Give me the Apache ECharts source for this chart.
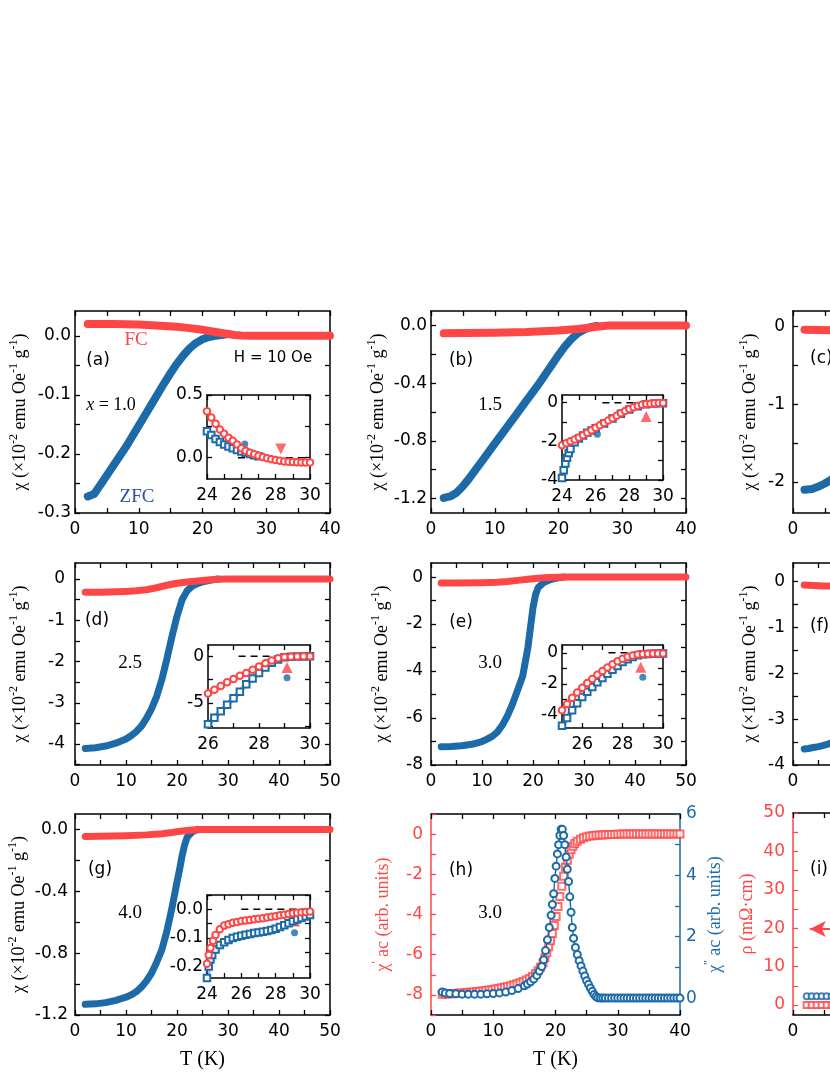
<!DOCTYPE html>
<html>
<head>
<meta charset="utf-8">
<script src="https://cdn.jsdelivr.net/npm/echarts@6/dist/echarts.min.js"></script>
<style>
html,body{margin:0;padding:0;background:#fff;overflow:hidden}
#chart{width:1100px;height:1075px}
</style>
</head>
<body>
<div id="chart"></div>
<script>
// ---- data ----
// (a) x = 1.0
const T_aFC = [2,4,6,8,10,12,14,16,18,20,22,24,25,26,28,30,35,40]
const chi_aFC = [0.020,0.020,0.0198,0.0194,0.019,0.018,0.0168,0.0152,0.013,0.0102,0.0065,0.003,0.0015,0.0006,0,0,0,0]
const T_aZFC = [2,3,4,5,6,7,8,9,10,11,12,13,14,15,16,17,18,19,20,21,22,23,24]
const chi_aZFC = [-0.272,-0.268,-0.252,-0.236,-0.220,-0.204,-0.188,-0.170,-0.152,-0.134,-0.116,-0.098,-0.080,-0.063,-0.047,-0.033,-0.021,-0.012,-0.006,-0.002,0.000,0.0015,0.003]
const T_aInR = [24,24.25,24.5,24.75,25,25.25,25.5,25.75,26,26.25,26.5,26.75,27,27.25,27.5,27.75,28,28.25,28.5,28.75,29,29.25,29.5,29.75,30]
const chi_aInR = [0.37,0.32,0.27,0.225,0.19,0.16,0.135,0.105,0.075,0.055,0.04,0.028,0.015,0.005,-0.005,-0.012,-0.018,-0.025,-0.03,-0.033,-0.035,-0.037,-0.038,-0.038,-0.038]
const T_aInB = [24,24.25,24.5,24.75,25,25.25,25.5,25.75,26,26.25,26.5,26.75,27]
const chi_aInB = [0.21,0.18,0.15,0.125,0.105,0.09,0.075,0.062,0.05,0.04,0.03,0.02,0.012]
const dot_a = [[26.2,0.11]]
const tri_a = [[28.3,0.07]]
const dash_a = [25.8,30]

// (b) x = 1.5
const T_bFC = [2,5,10,15,20,23,25,27,28,30,35,40]
const chi_bFC = [-0.055,-0.053,-0.05,-0.045,-0.035,-0.025,-0.015,-0.004,0,0,0,0]
const T_bZFC = [2,3,4,5,6,7,8,9,10,11,12,13,14,15,16,17,18,19,20,21,22,23,24,25,26]
const chi_bZFC = [-1.195,-1.185,-1.16,-1.115,-1.06,-1.0,-0.94,-0.88,-0.82,-0.76,-0.70,-0.64,-0.58,-0.52,-0.46,-0.40,-0.335,-0.27,-0.205,-0.145,-0.095,-0.055,-0.028,-0.012,-0.004]
const T_bInR = [24,24.25,24.5,24.75,25,25.25,25.5,25.75,26,26.25,26.5,26.75,27,27.25,27.5,27.75,28,28.25,28.5,28.75,29,29.25,29.5,29.75,30]
const chi_bInR = [-2.2,-2.1,-2.0,-1.9,-1.8,-1.68,-1.55,-1.43,-1.3,-1.17,-1.05,-0.92,-0.8,-0.67,-0.55,-0.43,-0.33,-0.24,-0.17,-0.11,-0.07,-0.05,-0.03,-0.02,-0.02]
const T_bInB = [24,24.1,24.2,24.3,24.4,24.5,24.75,25,25.25,25.5,25.75,26,26.5,27,27.5,28,28.5,29,29.5,30]
const chi_bInB = [-3.9,-3.5,-3.15,-2.85,-2.6,-2.4,-2.05,-1.85,-1.7,-1.56,-1.44,-1.32,-1.07,-0.82,-0.57,-0.35,-0.18,-0.08,-0.04,-0.03]
const dot_b = [[26.1,-1.63]]
const tri_b = [[29.0,-0.71]]
const dash_b = [26.4,30]

// (c)
const T_cFC = [1.8,4,6,8,10,15,20,25,30,40]
const chi_cFC = [-0.04,-0.045,-0.048,-0.05,-0.05,-0.05,-0.04,-0.02,0,0]
const T_cZFC = [1.8,3,4,5,6,8,10,12]
const chi_cZFC = [-2.1,-2.09,-2.06,-2.02,-1.97,-1.85,-1.68,-1.45]

// (d) x = 2.5
const T_dFC = [2,5,8,10,12,14,16,18,20,22,24,26,28,30,40,50]
const chi_dFC = [-0.32,-0.32,-0.31,-0.30,-0.285,-0.26,-0.21,-0.15,-0.10,-0.07,-0.045,-0.02,-0.005,0,0,0]
const T_dZFC = [2,4,6,8,10,11,12,13,14,15,16,17,18,19,20,21,22,23,24,25,26,27,28]
const chi_dZFC = [-4.11,-4.09,-4.05,-3.98,-3.88,-3.80,-3.70,-3.57,-3.38,-3.15,-2.85,-2.45,-1.95,-1.40,-0.90,-0.50,-0.28,-0.17,-0.11,-0.07,-0.04,-0.02,0]
const T_dIn = [26,26.25,26.5,26.75,27,27.25,27.5,27.75,28,28.25,28.5,28.75,29,29.25,29.5,29.75,30]
const chi_dInR = [-4.0,-3.6,-3.2,-2.8,-2.45,-2.1,-1.8,-1.45,-1.1,-0.75,-0.45,-0.22,-0.1,-0.05,-0.02,-0.01,-0.01]
const chi_dInB = [-7.3,-6.6,-5.9,-5.2,-4.5,-3.8,-3.0,-2.4,-1.8,-1.2,-0.7,-0.35,-0.12,-0.06,-0.03,-0.02,-0.01]
const dot_d = [[29.1,-2.3]]
const tri_d = [[29.1,-1.2]]
const dash_d = [27.2,30]

// (e) x = 3.0
const T_eFC = [2,5,10,13,15,17,19,21,23,25,27,35,50]
const chi_eFC = [-0.25,-0.25,-0.24,-0.22,-0.19,-0.14,-0.09,-0.05,-0.02,-0.005,0,0,0]
const T_eZFC = [2,4,6,8,10,11,12,13,14,15,16,17,18,19,19.5,20,20.5,21,22,23,24,25,26]
const chi_eZFC = [-7.22,-7.21,-7.18,-7.12,-7.0,-6.9,-6.78,-6.6,-6.3,-5.9,-5.4,-4.8,-4.2,-3.0,-2.15,-1.3,-0.75,-0.45,-0.25,-0.14,-0.07,-0.03,0]
const T_eIn = [25,25.25,25.5,25.75,26,26.25,26.5,26.75,27,27.25,27.5,27.75,28,28.25,28.5,28.75,29,29.25,29.5,29.75,30]
const chi_eInR = [-3.7,-3.3,-2.9,-2.55,-2.25,-1.95,-1.68,-1.42,-1.18,-0.95,-0.74,-0.55,-0.38,-0.26,-0.17,-0.11,-0.08,-0.06,-0.05,-0.05,-0.05]
const chi_eInB = [-4.7,-4.2,-3.7,-3.25,-2.85,-2.5,-2.2,-1.9,-1.62,-1.35,-1.1,-0.85,-0.6,-0.42,-0.27,-0.16,-0.1,-0.08,-0.06,-0.05,-0.05]
const dot_e = [[29.0,-1.57]]
const tri_e = [[28.9,-0.93]]
const dash_e = [27.3,30]

// (f)
const T_fFC = [2.2,4,6,8,10]
const chi_fFC = [-0.08,-0.09,-0.1,-0.1,-0.1]
const T_fZFC = [2.2,3,4,5,6,7,8,10]
const chi_fZFC = [-3.65,-3.64,-3.62,-3.6,-3.57,-3.54,-3.5,-3.4]

// (g) x = 4.0
const T_gFC = [2,5,10,14,17,19,21,23,25,30,40,50]
const chi_gFC = [-0.045,-0.044,-0.04,-0.035,-0.028,-0.02,-0.01,-0.003,0,0,0,0]
const T_gZFC = [2,4,6,8,10,11,12,13,14,15,16,17,18,19,20,20.5,21,21.5,22,23,24]
const chi_gZFC = [-1.131,-1.128,-1.12,-1.105,-1.085,-1.07,-1.05,-1.02,-0.98,-0.93,-0.86,-0.78,-0.66,-0.51,-0.34,-0.26,-0.17,-0.10,-0.05,-0.015,0]
const T_gInR = [24,24.1,24.2,24.35,24.5,24.75,25,25.25,25.5,25.75,26,26.25,26.5,26.75,27,27.25,27.5,27.75,28,28.25,28.5,28.75,29,29.25,29.5,29.75,30]
const chi_gInR = [-0.19,-0.16,-0.135,-0.11,-0.09,-0.07,-0.057,-0.052,-0.047,-0.044,-0.041,-0.039,-0.037,-0.035,-0.033,-0.031,-0.029,-0.026,-0.024,-0.021,-0.019,-0.016,-0.014,-0.012,-0.01,-0.009,-0.008]
const T_gInB = [24,24.1,24.2,24.3,24.5,24.75,25,25.25,25.5,25.75,26,26.25,26.5,26.75,27,27.25,27.5,27.75,28,28.25,28.5,28.75,29,29.25,29.5,29.75,30]
const chi_gInB = [-0.24,-0.2,-0.175,-0.16,-0.14,-0.125,-0.115,-0.107,-0.1,-0.096,-0.092,-0.089,-0.086,-0.083,-0.081,-0.078,-0.076,-0.072,-0.068,-0.062,-0.056,-0.049,-0.042,-0.036,-0.03,-0.025,-0.02]
const dot_g = [[29.1,-0.082]]
const tri_g = [[29.1,-0.041]]
const dash_g = [26,30]

// (h) ac susceptibility, x = 3.0
const T_hRe = [1.8,2.3,2.8,3.3,3.8,4.3,4.8,5.3,5.8,6.3,6.8,7.3,7.8,8.3,8.8,9.3,9.8,10.3,10.8,11.3,11.8,12.3,12.8,13.3,13.8,14.3,14.8,15.3,15.8,16.3,16.8,17.2,17.6,18.0,18.3,18.6,18.9,19.2,19.5,19.8,20.1,20.4,20.7,21.0,21.3,21.6,21.9,22.2,22.5,22.8,23.1,23.5,24,24.5,25,25.5,26,26.5,27,27.5,28,28.5,29,29.5,30,30.5,31,31.5,32,32.5,33,33.5,34,34.5,35,35.5,36,36.5,37,37.5,38,38.5,39,39.5,40]
const chi_hRe = [-7.97,-7.96,-7.95,-7.94,-7.93,-7.92,-7.91,-7.9,-7.88,-7.87,-7.85,-7.84,-7.82,-7.8,-7.78,-7.76,-7.74,-7.71,-7.68,-7.65,-7.62,-7.58,-7.54,-7.5,-7.45,-7.4,-7.33,-7.26,-7.18,-7.08,-6.95,-6.8,-6.62,-6.4,-6.15,-5.9,-5.6,-5.3,-4.95,-4.55,-4.1,-3.6,-3.1,-2.6,-2.1,-1.65,-1.3,-1.0,-0.78,-0.6,-0.47,-0.35,-0.25,-0.18,-0.13,-0.1,-0.08,-0.06,-0.05,-0.04,-0.03,-0.025,-0.02,-0.015,-0.01,0,0,0,0,0,0,0,0,0,0,0,0,0,0,0,0,0,0,0,0]
const T_hIm = [1.8,2.3,3,4,5,6,7,8,9,10,11,12,13,14,15,15.5,16,16.5,17,17.4,17.8,18.1,18.4,18.7,19.0,19.3,19.5,19.7,19.9,20.1,20.3,20.5,20.7,20.9,21.1,21.3,21.5,21.7,21.9,22.1,22.3,22.5,22.7,22.9,23.2,23.5,23.8,24.1,24.4,24.7,25.0,25.3,25.6,25.9,26.2,26.5,26.8,27.2,27.6,28,28.5,29,29.5,30,30.5,31,31.5,32,32.5,33,33.5,34,34.5,35,35.5,36,36.5,37,37.5,38,38.5,39,39.5,40]
const chi_hIm = [0.2,0.17,0.15,0.14,0.13,0.13,0.13,0.13,0.14,0.15,0.17,0.2,0.25,0.31,0.4,0.46,0.53,0.62,0.74,0.88,1.03,1.25,1.55,1.9,2.3,2.7,3.05,3.4,3.9,4.3,4.7,5.0,5.3,5.5,5.5,5.3,5.0,4.6,4.2,3.8,3.3,2.8,2.3,1.95,1.65,1.42,1.22,1.05,0.88,0.72,0.57,0.45,0.33,0.22,0.12,0.05,0.01,0,0,0,0,0,0,0,0,0,0,0,0,0,0,0,0,0,0,0,0,0,0,0,0,0,0,0]

// (i) resistivity
const T_i = [2.2,3.0,3.8,4.6,5.4,6.2,7.0]
const rho_iB = [2.3,2.3,2.3,2.3,2.3,2.3,2.3]
const rho_iR = [0,0,0,0,0,0,0]
const arrow_i = [[2.7,19.8],[12,19.8]]

// ticks
const xTicks40 = [0,10,20,30,40]
const xTicks50 = [0,10,20,30,40,50]
const yTicks_a = [-0.3,-0.2,-0.1,0]
const yTicks_b = [-1.2,-0.8,-0.4,0]
const yTicks_c = [-2,-1,0]
const yTicks_d = [-4,-3,-2,-1,0]
const yTicks_e = [-8,-6,-4,-2,0]
const yTicks_f = [-4,-3,-2,-1,0]
const yTicks_g = [-1.2,-0.8,-0.4,0]
const yTicks_hL = [-8,-6,-4,-2,0]
const yTicks_hR = [0,2,4,6]
const yTicks_i = [0,10,20,30,40,50]
const inX_24 = [24,26,28,30]
const inX_26 = [26,28,30]
const inY_a = [0,0.5]
const inY_b = [-4,-2,0]
const inY_d = [-5,0]
const inY_e = [-4,-2,0]
const inY_g = [-0.2,-0.1,0]

// ---- build ----
const RED = '#ff4646'
const BLUE = '#1c6aa8'
const SANS = 'DejaVu Sans'
const SERIF = 'Liberation Serif'
const chiName = 'χ (×10{s|-2} emu Oe{s|-1} g{s|-1})'

let grid = [], xAxis = [], yAxis = [], series = [], graphic = []

function allTicks(major, n, min, max) {
  let step = (major[1] - major[0]) / n
  let out = []
  for (let k = Math.ceil((min - 1e-9) / step); k <= Math.floor((max + 1e-9) / step); k++) out.push(+(k * step).toFixed(6))
  return out
}

function axisDef(o) {
  return {
    type: 'value', gridIndex: o.gi, position: o.pos, min: o.r[0], max: o.r[1],
    axisLine: { show: true, onZero: false, lineStyle: { color: o.color || '#000', width: 1.5 } },
    axisTick: { show: true, inside: true, length: 5, customValues: allTicks(o.t, o.n, o.r[0], o.r[1]), lineStyle: { width: 1.3 } },
    axisLabel: o.lab ? {
      show: true, customValues: o.t, margin: o.m, color: o.color || '#000',
      fontFamily: SANS, fontSize: 17, formatter: v => v.toFixed(o.d)
    } : { show: false },
    splitLine: { show: false },
    name: o.name || '', nameLocation: 'middle', nameGap: o.gap || 0, nameRotate: o.rot,
    nameTextStyle: {
      fontFamily: SERIF, fontSize: o.nfs || 18, color: o.ncolor || '#000', lineHeight: 24,
      rich: { s: { fontFamily: SERIF, fontSize: 12, verticalAlign: 'top', color: o.ncolor || '#000' } }
    }
  }
}

function panel(p) {
  let gi = grid.length
  grid.push({ left: p.rect[0], top: p.rect[1], width: p.rect[2], height: p.rect[3], show: !!p.inset, backgroundColor: '#fff', borderWidth: 0 })
  let xi = xAxis.length, yi = yAxis.length
  xAxis.push(axisDef({ gi, pos: 'bottom', r: p.xr, t: p.xt, n: p.xn || 2, lab: true, m: p.xm || 8, d: 0, name: p.xName, gap: 33, nfs: 20 }))
  xAxis.push(axisDef({ gi, pos: 'top', r: p.xr, t: p.xt, n: p.xn || 2, lab: false }))
  yAxis.push(axisDef({ gi, pos: 'left', r: p.yr, t: p.yt, n: p.yn || 2, lab: true, m: p.ym, d: p.yd || 0, name: p.yName, gap: p.yGap, color: p.yColor, ncolor: p.yNameColor }))
  if (p.right) {
    let q = p.right
    yAxis.push(axisDef({ gi, pos: 'right', r: q.r, t: q.t, n: 2, lab: true, m: q.m, d: 0, name: q.name, gap: q.gap, rot: 90, color: q.color, ncolor: q.color }))
  } else {
    yAxis.push(axisDef({ gi, pos: 'right', r: p.yr, t: p.yt, n: p.yn || 2, lab: false }))
  }
  return { xi, yi, yr: yi + 1 }
}

function pts(T, V) { return T.map((t, i) => [t, V[i]]) }

function band(pi, T, V, color, w) {
  series.push({
    type: 'line', xAxisIndex: pi.xi, yAxisIndex: pi.yi, data: pts(T, V), symbol: 'none', showSymbol: false,
    smooth: false, silent: true, animation: false,
    lineStyle: { color, width: w, cap: 'round', join: 'round' }
  })
}

function chain(pi, T, V, color, fade, sym) {
  series.push({
    type: 'line', xAxisIndex: pi.xi, yAxisIndex: pi.yi, data: pts(T, V), showSymbol: true, showAllSymbol: true,
    symbol: sym, symbolSize: 6.5, smooth: false, silent: true, animation: false,
    itemStyle: { color, borderColor: color, borderWidth: 1.2 },
    lineStyle: { color: fade, width: 5, join: 'round' }
  })
}

function insetMarks(pi, dash, dot, tri, down) {
  series.push({
    type: 'line', xAxisIndex: pi.xi, yAxisIndex: pi.yi, data: [[dash[0], 0], [dash[1], 0]], symbol: 'none', silent: true, animation: false,
    lineStyle: { color: '#000', width: 1.4, type: [7, 5] }
  })
  series.push({
    type: 'scatter', xAxisIndex: pi.xi, yAxisIndex: pi.yi, data: dot, symbol: 'circle', symbolSize: 7,
    itemStyle: { color: BLUE }, silent: true, animation: false
  })
  series.push({
    type: 'scatter', xAxisIndex: pi.xi, yAxisIndex: pi.yi, data: tri, symbol: 'triangle', symbolSize: [11, 11],
    symbolRotate: down ? 180 : 0, itemStyle: { color: RED }, silent: true, animation: false
  })
}

function txt(x, y, text, o) {
  o = o || {}
  graphic.push({
    type: 'text', x, y, silent: true,
    style: {
      text, fill: o.fill || '#000', font: (o.size || 17) + 'px "' + (o.serif ? SERIF : SANS) + '"',
      textAlign: o.align || 'center', textVerticalAlign: 'middle',
      rich: o.rich
    }
  })
}

const redFade = 'rgba(255,70,70,0.4)'
const blueFade = 'rgba(28,106,168,0.4)'

// row 1
let pa = panel({ rect: [75, 311, 255, 202], xr: [0, 40], xt: xTicks40, yr: [-0.3, 0.042], yt: yTicks_a, yd: 1, ym: 4, yName: chiName, yGap: 43 })
band(pa, T_aZFC, chi_aZFC, BLUE, 8)
band(pa, T_aFC, chi_aFC, RED, 8)
let pai = panel({ inset: true, rect: [207, 395, 103, 84], xr: [24, 30], xt: inX_24, yr: [-0.17, 0.5], yt: inY_a, yd: 1, ym: 4 })
chain(pai, T_aInB, chi_aInB, BLUE, blueFade, 'emptyRect')
chain(pai, T_aInR, chi_aInR, RED, redFade, 'emptyCircle')
insetMarks(pai, dash_a, dot_a, tri_a, true)

let pb = panel({ rect: [431, 311, 255, 202], xr: [0, 40], xt: xTicks40, yr: [-1.3, 0.1], yt: yTicks_b, yd: 1, ym: 4, yName: chiName, yGap: 39 })
band(pb, T_bZFC, chi_bZFC, BLUE, 8)
band(pb, T_bFC, chi_bFC, RED, 8)
let pbi = panel({ inset: true, rect: [562, 395, 101, 85], xr: [24, 30], xt: inX_24, yr: [-4, 0.4], yt: inY_b, ym: 4 })
chain(pbi, T_bInB, chi_bInB, BLUE, blueFade, 'emptyRect')
chain(pbi, T_bInR, chi_bInR, RED, redFade, 'emptyCircle')
insetMarks(pbi, dash_b, dot_b, tri_b, false)

let pc = panel({ rect: [793, 311, 255, 202], xr: [0, 40], xt: xTicks40, yr: [-2.4, 0.2], yt: yTicks_c, ym: 8, yName: chiName, yGap: 31 })
band(pc, T_cZFC, chi_cZFC, BLUE, 8)
band(pc, T_cFC, chi_cFC, RED, 8)

// row 2
let pd = panel({ rect: [75, 563, 255, 202], xr: [0, 50], xt: xTicks50, yr: [-4.51, 0.39], yt: yTicks_d, ym: 10, yName: chiName, yGap: 43 })
band(pd, T_dZFC, chi_dZFC, BLUE, 7)
band(pd, T_dFC, chi_dFC, RED, 7)
let pdi = panel({ inset: true, rect: [208, 645, 102, 83], xr: [26, 30], xt: inX_26, yr: [-7.7, 1.2], yt: inY_d, ym: 4 })
chain(pdi, T_dIn, chi_dInB, BLUE, blueFade, 'emptyRect')
chain(pdi, T_dIn, chi_dInR, RED, redFade, 'emptyCircle')
insetMarks(pdi, dash_d, dot_d, tri_d, false)

let pe = panel({ rect: [431, 563, 255, 202], xr: [0, 50], xt: xTicks50, yr: [-8, 0.6], yt: yTicks_e, yn: 2, ym: 8, yName: chiName, yGap: 37 })
band(pe, T_eZFC, chi_eZFC, BLUE, 7)
band(pe, T_eFC, chi_eFC, RED, 7)
let pei = panel({ inset: true, rect: [562, 645, 101, 83], xr: [25, 30], xt: inX_26, yr: [-4.84, 0.5], yt: inY_e, ym: 4 })
chain(pei, T_eIn, chi_eInB, BLUE, blueFade, 'emptyRect')
chain(pei, T_eIn, chi_eInR, RED, redFade, 'emptyCircle')
insetMarks(pei, dash_e, dot_e, tri_e, false)

let pf = panel({ rect: [793, 563, 255, 202], xr: [0, 50], xt: xTicks50, yr: [-4, 0.4], yt: yTicks_f, ym: 8, yName: chiName, yGap: 31 })
band(pf, T_fZFC, chi_fZFC, BLUE, 7)
band(pf, T_fFC, chi_fFC, RED, 7)

// row 3
let pg = panel({ rect: [75, 814, 255, 201], xr: [0, 50], xt: xTicks50, yr: [-1.2, 0.1], yt: yTicks_g, yd: 1, ym: 7, yName: chiName, yGap: 43, xName: 'T (K)' })
band(pg, T_gZFC, chi_gZFC, BLUE, 7)
band(pg, T_gFC, chi_gFC, RED, 7)
let pgi = panel({ inset: true, rect: [207, 895, 103, 83], xr: [24, 30], xt: inX_24, yr: [-0.24, 0.05], yt: inY_g, yd: 1, ym: 4 })
chain(pgi, T_gInB, chi_gInB, BLUE, blueFade, 'emptyRect')
chain(pgi, T_gInR, chi_gInR, RED, redFade, 'emptyCircle')
insetMarks(pgi, dash_g, dot_g, tri_g, false)

let ph = panel({
  rect: [431, 814, 249, 201], xr: [0, 40], xt: xTicks40, yr: [-9, 1], yt: yTicks_hL, ym: 8,
  yName: 'χ{s|\'} ac (arb. units)', yGap: 36, yColor: RED, yNameColor: RED, xName: 'T (K)',
  right: { r: [-0.55, 6], t: yTicks_hR, m: 6, name: 'χ{s|\'\'} ac (arb. units)', gap: 23, color: BLUE }
})
series.push({
  type: 'line', xAxisIndex: ph.xi, yAxisIndex: ph.yr, data: pts(T_hIm, chi_hIm), symbol: 'emptyCircle', symbolSize: 7,
  showAllSymbol: true, silent: true, animation: false,
  itemStyle: { color: BLUE, borderColor: BLUE, borderWidth: 1.3 }, lineStyle: { color: BLUE, width: 1.4 }
})
series.push({
  type: 'scatter', xAxisIndex: ph.xi, yAxisIndex: ph.yi, data: pts(T_hRe, chi_hRe), symbol: 'emptyRect', symbolSize: 7,
  silent: true, animation: false, itemStyle: { color: RED, borderColor: RED, borderWidth: 1.3 }
})

let pi_ = panel({ rect: [793, 813, 249, 202], xr: [0, 40], xt: xTicks40, yr: [-2.6, 50], yt: yTicks_i, ym: 8, yName: 'ρ (mΩ·cm)', yGap: 31, yColor: RED, yNameColor: RED })
series.push({
  type: 'scatter', xAxisIndex: pi_.xi, yAxisIndex: pi_.yi, data: pts(T_i, rho_iB), symbol: 'emptyCircle', symbolSize: 6,
  silent: true, animation: false, itemStyle: { color: BLUE, borderColor: BLUE, borderWidth: 1.2 }
})
series.push({
  type: 'scatter', xAxisIndex: pi_.xi, yAxisIndex: pi_.yi, data: pts(T_i, rho_iR), symbol: 'emptyRect', symbolSize: 6,
  silent: true, animation: false, itemStyle: { color: RED, borderColor: RED, borderWidth: 1.2 },
  markLine: {
    silent: true, animation: false, symbol: ['arrow', 'none'], symbolSize: [12, 16], label: { show: false },
    lineStyle: { color: RED, width: 2, type: 'solid' },
    data: [[{ coord: arrow_i[0] }, { coord: arrow_i[1] }]]
  }
})

// annotations
const serifRich = { i: { fontFamily: SERIF, fontStyle: 'italic', fontSize: 18 } }
txt(98, 361, '(a)')
txt(136, 340, 'FC', { serif: true, size: 19, fill: RED })
txt(273, 358, 'H = 10 Oe', { size: 15 })
txt(111, 405, '{i|x} = 1.0', { serif: true, size: 18, rich: serifRich })
txt(137, 497, 'ZFC', { serif: true, size: 19, fill: '#2b4fae' })
txt(461, 361, '(b)')
txt(490, 405, '1.5', { serif: true, size: 19 })
txt(810, 359, '(c)', { align: 'left' })
txt(97, 621, '(d)')
txt(130, 663, '2.5', { serif: true, size: 19 })
txt(461, 623, '(e)')
txt(490, 663, '3.0', { serif: true, size: 19 })
txt(810, 627, '(f)', { align: 'left' })
txt(100, 870, '(g)')
txt(130, 913, '4.0', { serif: true, size: 19 })
txt(461, 871, '(h)')
txt(490, 913, '3.0', { serif: true, size: 19 })
txt(810, 870, '(i)', { align: 'left' })

let chart = echarts.init(document.getElementById('chart'), null, { renderer: 'canvas' })
chart.setOption({
  backgroundColor: '#fff',
  animation: false,
  grid, xAxis, yAxis, series, graphic
})
</script>
</body>
</html>
